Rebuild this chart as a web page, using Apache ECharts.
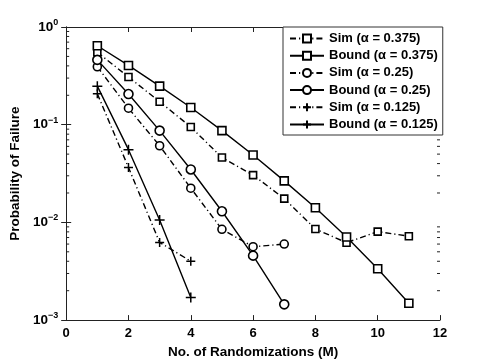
<!DOCTYPE html>
<html><head><meta charset="utf-8">
<script src="https://cdn.jsdelivr.net/npm/echarts@6/dist/echarts.min.js"></script>
<style>html,body{margin:0;padding:0;background:#fff}#c{width:485px;height:364px}</style>
</head><body><div id="c"></div>
<script>
const M = [1,2,3,4,5,6,7,8,9,10,11];
const simA375   = [0.551,0.308,0.172,0.0948,0.0461,0.0305,0.0175,0.00857,0.0062,0.00805,0.00722];
const boundA375 = [0.643,0.404,0.248,0.150,0.087,0.049,0.0266,0.0141,0.0071,0.00335,0.00149];
const simA25    = [0.392,0.1475,0.0609,0.0224,0.0085,0.00564,0.0060];
const boundA25  = [0.461,0.206,0.087,0.0348,0.0130,0.00457,0.00145];
const simA125   = [0.207,0.0365,0.00624,0.00401];
const boundA125 = [0.248,0.0555,0.0106,0.0017];
const seriesNames = ['Sim (α = 0.375)','Bound (α = 0.375)','Sim (α = 0.25)','Bound (α = 0.25)','Sim (α = 0.125)','Bound (α = 0.125)'];
const xTicks = [0,2,4,6,8,10,12];
const yTickExps = [-3,-2,-1,0];
const xLabel = 'No. of Randomizations (M)';
const yLabel = 'Probability of Failure';

const FONT = 'Liberation Sans, Arial, Helvetica, sans-serif';
const plus = 'path://M0,5L10,5M5,0L5,10';
const dashDot = [6,3,1.2,3];
function mk(name, vals, symbol, size, dashed){
  const isPlus = symbol===plus;
  return {
    name, type:'line', data: vals.map((v,i)=>[M[i],v]),
    symbol, symbolSize: size, showSymbol:true,
    lineStyle:{color:'#000', width:1.4, type: dashed? dashDot : 'solid'},
    itemStyle:{color: isPlus ? 'rgba(0,0,0,0)' : '#fff', borderColor:'#000', borderWidth: isPlus ? 1.5 : 1.6},
    emphasis:{disabled:true}, animation:false, z: 3
  };
}
const chart = echarts.init(document.getElementById('c'));
const axisTxt = {color:'#000', fontFamily:FONT, fontWeight:'bold', fontSize:13};
chart.setOption({
  animation:false,
  grid:{left:63, right:45, top:27, bottom:41, containLabel:false},
  legend:{
    left:283, top:27, orient:'vertical', data: seriesNames,
    backgroundColor:'#fff', borderColor:'#333', borderWidth:1,
    padding:[5,5,4,6], itemGap:4.2, itemWidth:34, itemHeight:10,
    textStyle:{color:'#000', fontFamily:FONT, fontWeight:'bold', fontSize:13},
    selectedMode:false
  },
  xAxis:[{
    type:'value', min:xTicks[0], max:xTicks[xTicks.length-1], interval:2,
    name:xLabel, nameLocation:'middle', nameGap:22,
    nameTextStyle:{...axisTxt, fontSize:13.5},
    axisLine:{lineStyle:{color:'#222', width:1}}, axisTick:{inside:true, length:5, lineStyle:{color:'#222'}},
    axisLabel:{...axisTxt, margin:7}, splitLine:{show:false}
  },{
    type:'value', position:'top', min:xTicks[0], max:xTicks[xTicks.length-1], interval:2,
    axisLine:{lineStyle:{color:'#222', width:1}}, axisTick:{inside:true, length:5, lineStyle:{color:'#222'}},
    axisLabel:{show:false}, splitLine:{show:false}
  }],
  yAxis:[{
    type:'log', min:Math.pow(10,yTickExps[0]), max:Math.pow(10,yTickExps[yTickExps.length-1]), logBase:10,
    name:yLabel, nameLocation:'middle', nameGap:36, nameTextStyle:{...axisTxt, fontSize:13.5},
    axisLine:{lineStyle:{color:'#222', width:1}}, axisTick:{inside:true, length:5, lineStyle:{color:'#222'}},
    axisLabel:{margin:8, formatter:v=>{const e=Math.round(Math.log10(v)); return '{b|10}{s|'+(e<0?'\u2212'+(-e):e)+'}';},
      rich:{b:{...axisTxt, fontSize:13.5}, s:{...axisTxt, fontSize:9, padding:[0,0,9,0]}}},
    splitLine:{show:false}
  },{
    type:'log', position:'right', min:Math.pow(10,yTickExps[0]), max:Math.pow(10,yTickExps[yTickExps.length-1]), logBase:10,
    axisLine:{lineStyle:{color:'#222', width:1}}, axisTick:{inside:true, length:5, lineStyle:{color:'#222'}},
    axisLabel:{show:false}, splitLine:{show:false}
  }],
  series:[
    mk(seriesNames[0], simA375, 'rect', 7, true),
    mk(seriesNames[1], boundA375, 'rect', 8, false),
    mk(seriesNames[2], simA25, 'circle', 8, true),
    mk(seriesNames[3], boundA25, 'circle', 9, false),
    mk(seriesNames[4], simA125, plus, 9, true),
    mk(seriesNames[5], boundA125, plus, 10, false)
  ]
});
const g = [];
for (let e = yTickExps[0]; e < yTickExps[yTickExps.length-1]; e++) {
  for (let k = 2; k <= 9; k++) {
    const v = k*Math.pow(10,e);
    const pL = chart.convertToPixel({xAxisIndex:0, yAxisIndex:0}, [xTicks[0], v]);
    const pR = chart.convertToPixel({xAxisIndex:0, yAxisIndex:0}, [xTicks[xTicks.length-1], v]);
    g.push({type:'line', shape:{x1:pL[0], y1:pL[1], x2:pL[0]+3, y2:pL[1]}, style:{stroke:'#222', lineWidth:1}, z:1});
    g.push({type:'line', shape:{x1:pR[0], y1:pR[1], x2:pR[0]-3, y2:pR[1]}, style:{stroke:'#222', lineWidth:1}, z:1});
  }
}
chart.setOption({graphic:g});
</script></body></html>
